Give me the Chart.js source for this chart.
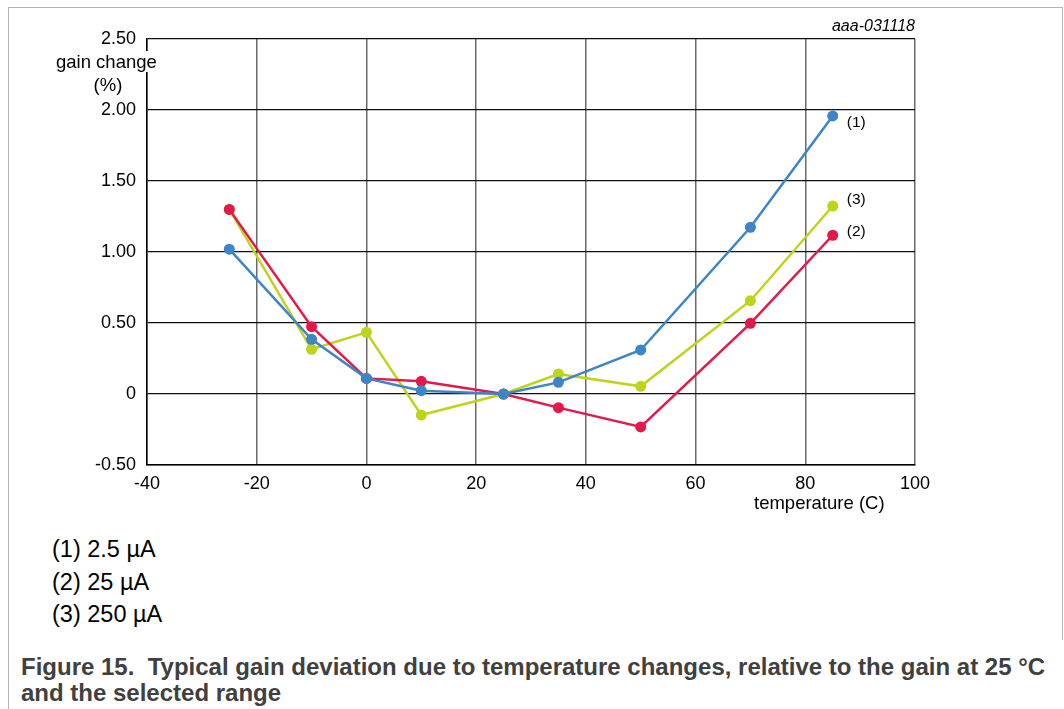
<!DOCTYPE html>
<html lang="en">
<head>
  <meta charset="UTF-8">
  <title>Figure 15</title>
  <script src="https://cdn.jsdelivr.net/npm/chart.js"></script>
  <style>
    body { margin: 0; background: #fff; font-family: "Liberation Sans", Arial, sans-serif; }
    #page { position: relative; width: 1064px; height: 709px; overflow: hidden; }
    #frame { position: absolute; left: 8px; top: 7px; width: 1053px; height: 632px;
             border: 1px solid #b4b4b4; border-bottom: none; }
    #leftline { position: absolute; left: 8px; top: 639px; width: 1px; height: 70px; background: #b4b4b4; }
    #graphic { position: absolute; left: 0; top: 0; }
    .txt { position: absolute; color: #000; white-space: nowrap; }
    #ytitle { left: 54px; top: 50px; width: 108px; font-size: 18.5px; line-height: 23px; text-align: center; }
    #ytitle span.bg { background: #fff; padding: 0 14px 0 2px; }
    #xtitle { left: 754px; top: 492px; font-size: 18.5px; }
    #code { right: 149px; top: 17px; font-size: 16px; font-style: italic; }
    #notes { left: 52px; top: 533px; font-size: 23.5px; line-height: 32.5px; }
    #caption { left: 21px; top: 654px; font-size: 24px; line-height: 26px; font-weight: bold; color: #404040; }
  </style>
</head>
<body>
  <div id="page">
    <div id="frame"></div>
    <div id="leftline"></div>
    <canvas id="graphic" width="1064" height="520"></canvas>
    <div class="txt" id="ytitle"><span class="bg">gain change</span><br>(%)</div>
    <div class="txt" id="xtitle">temperature (C)</div>
    <div class="txt" id="code">aaa-031118</div>
    <div class="txt" id="notes">(1) 2.5 µA<br>(2) 25 µA<br>(3) 250 µA</div>
    <div class="txt" id="caption">Figure 15.&nbsp; Typical gain deviation due to temperature changes, relative to the gain at 25 °C<br>and the selected range</div>
  </div>

  <script>
    // temperatures (C)
    const temperaturas = [-25, -10, 0, 10, 25, 35, 50, 70, 85];

    // gain change (%) por rango
    const serie1 = [1.02, 0.385, 0.11, 0.023, 0, 0.082, 0.31, 1.174, 1.958];   // 2.5 uA
    const serie2 = [1.30, 0.474, 0.11, 0.089, 0, -0.096, -0.232, 0.498, 1.118]; // 25 uA
    const serie3 = [1.30, 0.315, 0.434, -0.148, 0, 0.141, 0.054, 0.657, 1.324]; // 250 uA

    const etiquetas = ["(1)", "(2)", "(3)"];
    const xTicks = [-40, -20, 0, 20, 40, 60, 80, 100];
    const yTicks = [-0.5, 0, 0.5, 1.0, 1.5, 2.0, 2.5];

    const colores = ["#3c85c9", "#e3184b", "#bdd41b"];
    // desplazamiento vertical de las etiquetas (1)(2)(3)
    const offsetY = [7, -4, -6];

    function puntos(valores) {
      return temperaturas.map((t, i) => ({ x: t, y: valores[i] }));
    }

    const etiquetasFinales = {
      id: 'etiquetasFinales',
      afterDatasetsDraw(chart) {
        const ctx = chart.ctx;
        ctx.save();
        ctx.font = '15.5px "Liberation Sans", Arial, sans-serif';
        ctx.fillStyle = '#000';
        ctx.textBaseline = 'middle';
        chart.data.datasets.forEach((ds, i) => {
          const last = ds.data[ds.data.length - 1];
          const px = chart.scales.x.getPixelForValue(last.x);
          const py = chart.scales.y.getPixelForValue(last.y);
          ctx.fillText(etiquetas[i], px + 14, py + offsetY[i]);
        });
        ctx.restore();
      }
    };

    const lienzo = document.getElementById("graphic");
    const tickFont = { family: '"Liberation Sans", Arial, sans-serif', size: 18 };

    new Chart(lienzo, {
      type: 'line',
      data: {
        datasets: [serie1, serie2, serie3].map((s, i) => ({
          label: etiquetas[i],
          data: puntos(s),
          borderColor: colores[i],
          backgroundColor: colores[i],
          borderWidth: 2.5,
          pointRadius: 5.5,
          pointBorderWidth: 0,
          tension: 0
        }))
      },
      options: {
        responsive: false,
        animation: false,
        layout: { padding: { left: 0, right: 149, top: 39, bottom: 0 } },
        plugins: { legend: { display: false }, tooltip: { enabled: false } },
        scales: {
          x: {
            type: 'linear',
            min: -40, max: 100,
            afterBuildTicks: (scale) => { scale.ticks = xTicks.map(v => ({ value: v })); },
            afterFit: (scale) => { scale.height = 55; },
            ticks: { color: '#000', font: tickFont, padding: 8, maxRotation: 0 },
            grid: { color: '#6a6a6a', lineWidth: 1.5, drawTicks: false },
            border: { color: '#000', width: 1.5 }
          },
          y: {
            min: -0.5, max: 2.5,
            afterBuildTicks: (scale) => { scale.ticks = yTicks.map(v => ({ value: v })); },
            afterFit: (scale) => { scale.width = 147; },
            ticks: {
              color: '#000', font: tickFont, padding: 11,
              callback: (v) => v === 0 ? '0' : v.toFixed(2)
            },
            grid: { color: '#111', lineWidth: 1.2, drawTicks: false },
            border: { color: '#000', width: 1.5 }
          }
        }
      },
      plugins: [etiquetasFinales]
    });
  </script>
</body>
</html>
